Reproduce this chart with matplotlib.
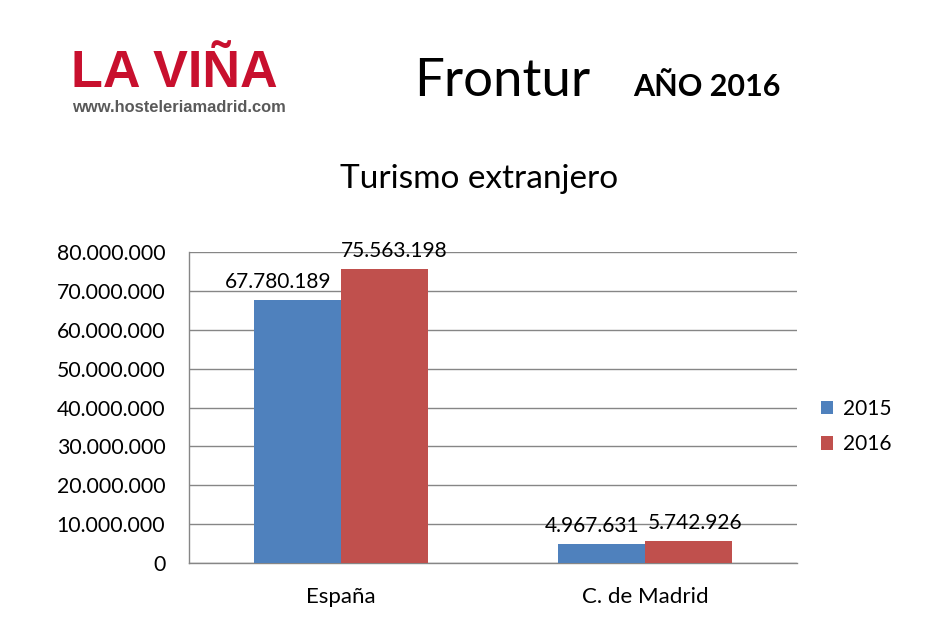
import matplotlib
matplotlib.use("Agg")
import matplotlib.pyplot as plt
import numpy as np

categories = ["España", "C. de Madrid"]
series_names = ["2015", "2016"]
values_2015 = [67780189, 4967631]
values_2016 = [75563198, 5742926]
y_ticks = [0, 10000000, 20000000, 30000000, 40000000, 50000000, 60000000, 70000000, 80000000]

colors = ["#4F81BD", "#C0504D"]
FONT = "Lato"

def fmt(v):
    return f"{v:,}".replace(",", ".")

W, H = 937, 633
fig = plt.figure(figsize=(W / 100, H / 100), dpi=100)
fig.patch.set_facecolor("white")

def fx(px):
    return px / W

def fy(py):
    return 1 - py / H

ax = fig.add_axes([fx(189), fy(563), fx(797) - fx(189), fy(252) - fy(563)])

x = np.arange(len(categories))
bw = 0.286
b1 = ax.bar(x - bw / 2, values_2015, bw, color=colors[0], label=series_names[0], zorder=3)
b2 = ax.bar(x + bw / 2, values_2016, bw, color=colors[1], label=series_names[1], zorder=3)

label_dx = [[-14, -7], [7, 5]]
for si, bars in enumerate([b1, b2]):
    for ci, rect in enumerate(bars):
        v = rect.get_height()
        ax.annotate(fmt(v), xy=(rect.get_x() + rect.get_width() / 2, v),
                    xytext=(label_dx[si][ci], 8.5), textcoords="offset points",
                    ha="center", va="baseline", fontsize=15, family=FONT, color="black", zorder=4)

ax.set_xlim(-0.5, 1.5)
ax.set_ylim(0, 80000000)
ax.set_yticks(y_ticks)
ax.set_yticklabels([fmt(t) for t in y_ticks], fontsize=15.3, family=FONT)
ax.set_xticks(x)
ax.set_xticklabels(categories, fontsize=16, family=FONT)
ax.tick_params(axis="y", length=0, pad=17)
ax.tick_params(axis="x", length=0, pad=17)
ax.grid(axis="y", color="#868686", linewidth=1, zorder=0)
for s in ["top", "right"]:
    ax.spines[s].set_visible(False)
for s in ["left", "bottom"]:
    ax.spines[s].set_color("#868686")
    ax.spines[s].set_linewidth(1)

leg = fig.legend(handles=[b1, b2], labels=series_names, loc="upper left",
                 bbox_to_anchor=(fx(802), fy(380)), frameon=False,
                 prop={"family": FONT, "size": 15}, handlelength=0.6, handleheight=0.6,
                 handletextpad=0.45, labelspacing=0.75)

# header
fig.text(fx(71), fy(87), "LA VIÑA", family="Liberation Sans", weight="bold",
         fontsize=37.5, color="#C8102E", ha="left", va="baseline")
fig.text(fx(72), fy(112), "www.hosteleriamadrid.com", family="Liberation Sans", weight="bold",
         fontsize=11.9, color="#5A5A5A", ha="left", va="baseline")
fig.text(fx(414), fy(96), "Frontur", family=FONT, fontsize=38, color="black",
         ha="left", va="baseline")
fig.text(fx(633), fy(96), "AÑO 2016", family=FONT, weight="bold", fontsize=22,
         color="black", ha="left", va="baseline")
fig.text(fx(479), fy(188), "Turismo extranjero", family=FONT, fontsize=24,
         color="black", ha="center", va="baseline")

fig.savefig("out.png", dpi=100, facecolor="white")
